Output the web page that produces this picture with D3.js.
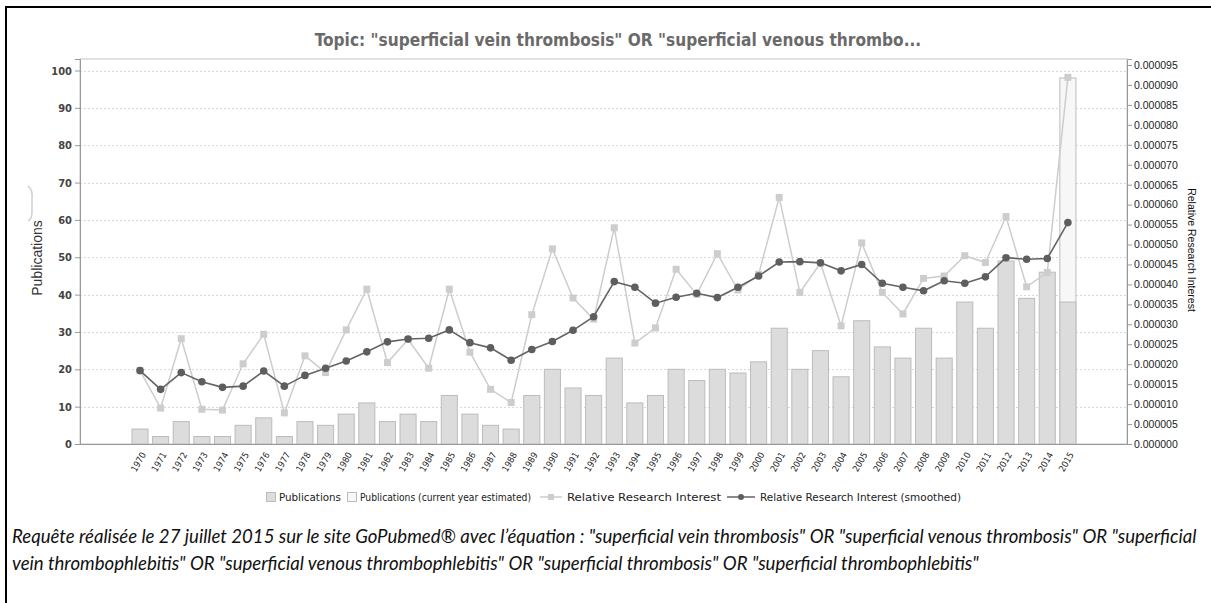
<!DOCTYPE html>
<html><head><meta charset="utf-8">
<script src="https://cdn.jsdelivr.net/npm/d3@7"></script>
<style>
html,body{margin:0;padding:0;background:#fff;}
svg{display:block;}
</style></head>
<body>
<script>
const years = ["1970","1971","1972","1973","1974","1975","1976","1977","1978","1979",
"1980","1981","1982","1983","1984","1985","1986","1987","1988","1989",
"1990","1991","1992","1993","1994","1995","1996","1997","1998","1999",
"2000","2001","2002","2003","2004","2005","2006","2007","2008","2009",
"2010","2011","2012","2013","2014","2015"];
const publications = [4,2,6,2,2,5,7,2,6,5, 8,11,6,8,6,13,8,5,4,13, 20,15,13,23,11,13,20,17,20,19, 22,31,20,25,18,33,26,23,31,23, 38,31,49,39,46,38];
const estimatedYear = "2015";
const estimatedPublications = 98;
const relativeInterest = [18.4e-6,9.0e-6,26.4e-6,8.7e-6,8.5e-6,20.1e-6,27.5e-6,7.8e-6,22.1e-6,17.9e-6,
 28.6e-6,38.8e-6,20.4e-6,26.2e-6,19.0e-6,38.8e-6,23.0e-6,13.7e-6,10.4e-6,32.4e-6,
 48.9e-6,36.6e-6,31.3e-6,54.2e-6,25.3e-6,29.1e-6,43.8e-6,37.5e-6,47.7e-6,38.6e-6,
 42.5e-6,61.8e-6,38.0e-6,45.3e-6,29.6e-6,50.4e-6,38.0e-6,32.6e-6,41.5e-6,42.1e-6,
 47.2e-6,45.5e-6,57.0e-6,39.4e-6,43.0e-6,91.9e-6];
const relativeSmoothed = [18.4e-6,13.7e-6,17.9e-6,15.6e-6,14.2e-6,14.5e-6,18.3e-6,14.5e-6,17.2e-6,19.0e-6,
 20.8e-6,23.1e-6,25.6e-6,26.3e-6,26.5e-6,28.6e-6,25.4e-6,24.1e-6,21.0e-6,23.7e-6,
 25.7e-6,28.5e-6,31.9e-6,40.7e-6,39.3e-6,35.3e-6,36.8e-6,37.8e-6,36.7e-6,39.3e-6,
 42.1e-6,45.6e-6,45.7e-6,45.4e-6,43.4e-6,45.0e-6,40.3e-6,39.3e-6,38.4e-6,40.9e-6,
 40.3e-6,41.9e-6,46.7e-6,46.3e-6,46.5e-6,55.5e-6];
const leftTicks = [0,10,20,30,40,50,60,70,80,90,100];
const rightTicks = [0,5e-6,10e-6,15e-6,20e-6,25e-6,30e-6,35e-6,40e-6,45e-6,50e-6,55e-6,60e-6,65e-6,70e-6,75e-6,80e-6,85e-6,90e-6,95e-6];
const titleText = 'Topic: "superficial vein thrombosis" OR "superficial venous thrombo...';
const legendLabels = ["Publications","Publications (current year estimated)","Relative Research Interest","Relative Research Interest (smoothed)"];
const captionLines = ['Requête réalisée le 27 juillet 2015 sur le site GoPubmed® avec l’équation : "superficial vein thrombosis" OR "superficial venous thrombosis" OR "superficial',
 'vein thrombophlebitis" OR "superficial venous thrombophlebitis" OR "superficial thrombosis" OR "superficial thrombophlebitis"'];

const W = 1211, H = 603;
const svg = d3.select("body").append("svg").attr("width", W).attr("height", H);

// outer frame (top and left visible)
svg.append("line").attr("x1",6).attr("x2",W).attr("y1",7).attr("y2",7).attr("stroke","#000").attr("stroke-width",2);
svg.append("line").attr("x1",6).attr("x2",6).attr("y1",6).attr("y2",H).attr("stroke","#000").attr("stroke-width",2);

const P = {left:80, right:1127, top:59, bottom:444};
const g = svg.append("g");

const x = d3.scaleBand().domain(years).range([129.2, 1077.7]).paddingInner(0.22).paddingOuter(0.11);
const yL = d3.scaleLinear().domain([0, 103.08]).range([P.bottom, P.top]);
const yR = d3.scaleLinear().domain([0, 96.5e-6]).range([P.bottom, P.top]);

// plot frame
g.append("rect").attr("x",P.left).attr("y",P.top).attr("width",P.right-P.left).attr("height",P.bottom-P.top)
 .attr("fill","none").attr("stroke","#c4c4c4").attr("stroke-width",1);

// gridlines
g.selectAll(".grid").data(leftTicks.filter(d=>d>0)).join("line")
 .attr("x1",P.left).attr("x2",P.right)
 .attr("y1",d=>Math.round(yL(d))+0.5).attr("y2",d=>Math.round(yL(d))+0.5)
 .attr("stroke","#d8d8d8").attr("stroke-dasharray","2,2").attr("stroke-width",1);

// estimated bar
g.append("rect").datum(estimatedPublications)
 .attr("x", x(estimatedYear)+0.5).attr("width", x.bandwidth())
 .attr("y", d=>yL(d)).attr("height", d=>yL(0)-yL(d))
 .attr("fill","#f7f7f7").attr("stroke","#bcbcbc").attr("stroke-width",1);

// bars
g.selectAll(".bar").data(publications).join("rect")
 .attr("x",(d,i)=>x(years[i])+0.5).attr("width",x.bandwidth())
 .attr("y",d=>yL(d)).attr("height",d=>yL(0)-yL(d))
 .attr("fill","#dcdcdc").attr("stroke","#bcbcbc").attr("stroke-width",1);

const cx = i => x(years[i]) + x.bandwidth()/2 + 0.5;

// raw interest line
g.append("path").datum(relativeInterest)
 .attr("d", d3.line().x((d,i)=>cx(i)).y(d=>yR(d)))
 .attr("fill","none").attr("stroke","#cdcdcd").attr("stroke-width",1.5);
g.selectAll(".sq").data(relativeInterest).join("rect")
 .attr("x",(d,i)=>cx(i)-3.5).attr("y",d=>yR(d)-3.5).attr("width",7).attr("height",7)
 .attr("fill","#cdcdcd");

// smoothed line
g.append("path").datum(relativeSmoothed)
 .attr("d", d3.line().x((d,i)=>cx(i)).y(d=>yR(d)))
 .attr("fill","none").attr("stroke","#646464").attr("stroke-width",1.6);
g.selectAll(".dot").data(relativeSmoothed).join("circle")
 .attr("cx",(d,i)=>cx(i)).attr("cy",d=>yR(d)).attr("r",3.8)
 .attr("fill","#5e5e5e");

// axes
const axL = g.append("g").attr("transform",`translate(${P.left},0)`)
 .call(d3.axisLeft(yL).tickValues(leftTicks).tickSize(5).tickPadding(3).tickFormat(d3.format("d")));
axL.select(".domain").attr("stroke","#999");
axL.selectAll(".tick line").attr("stroke","#999");
axL.selectAll("text").attr("font-family","DejaVu Sans Condensed, DejaVu Sans, sans-serif").attr("font-size",11).attr("font-weight","bold").attr("fill","#444");

const axR = g.append("g").attr("transform",`translate(${P.right},0)`)
 .call(d3.axisRight(yR).tickValues(rightTicks).tickSize(5).tickPadding(2).tickFormat(d3.format(".6f")));
axR.select(".domain").attr("stroke","#999");
axR.selectAll(".tick line").attr("stroke","#999");
axR.selectAll("text").attr("font-family","Liberation Sans, Arial, sans-serif").attr("font-size",10.5).attr("fill","#222");

const axB = g.append("g").attr("transform",`translate(0,${P.bottom})`)
 .call(d3.axisBottom(x).tickSize(0).tickPadding(0));
axB.select(".domain").attr("stroke","#999").attr("d",`M${P.left},0.5H${P.right}`);
axB.selectAll("text")
 .attr("font-family","DejaVu Sans Condensed, DejaVu Sans, sans-serif").attr("font-size",9).attr("fill","#222")
 .attr("text-anchor","end").attr("dy","0.35em")
 .attr("transform","translate(4,9) rotate(-60)");

// axis titles
svg.append("text").attr("transform","translate(42,258) rotate(-90)")
 .attr("text-anchor","middle").attr("font-family","Liberation Sans, Arial, sans-serif")
 .attr("font-size",14).attr("fill","#333").text("Publications");
svg.append("text").attr("transform","translate(1188,250) rotate(90)")
 .attr("text-anchor","middle").attr("font-family","Liberation Sans, Arial, sans-serif")
 .attr("font-size",10.5).attr("fill","#111").text("Relative Research Interest");
svg.append("path").attr("d","M28,186 Q33,189 32,200 L32,212 Q32,219 28,221")
 .attr("fill","none").attr("stroke","#d0d0d0").attr("stroke-width",1.5);

// title
const title = svg.append("text").attr("x",618).attr("y",46).attr("text-anchor","middle")
 .attr("font-family","DejaVu Sans Condensed, DejaVu Sans, sans-serif").attr("font-weight","bold")
 .attr("font-size",13).attr("fill","#6a6a6a").text(titleText);
{ const w = title.node().getComputedTextLength(); title.attr("font-size", 13*607/w); }

// legend
const lg = svg.append("g").attr("font-family","Liberation Sans Narrow, Arial Narrow, DejaVu Sans Condensed, sans-serif").attr("font-size",10.5).attr("fill","#222");
const ly = 497;
lg.append("rect").attr("x",266.5).attr("y",ly-4.5).attr("width",9).attr("height",9).attr("fill","#dcdcdc").attr("stroke","#bcbcbc");
lg.append("text").attr("x",279).attr("y",ly+3.5).text(legendLabels[0]);
lg.append("rect").attr("x",347.5).attr("y",ly-4.5).attr("width",9).attr("height",9).attr("fill","#f7f7f7").attr("stroke","#bcbcbc");
lg.append("text").attr("x",360).attr("y",ly+3.5).text(legendLabels[1]);
lg.append("line").attr("x1",540).attr("x2",562).attr("y1",ly).attr("y2",ly).attr("stroke","#cdcdcd").attr("stroke-width",1.5);
lg.append("rect").attr("x",548).attr("y",ly-3).attr("width",6).attr("height",6).attr("fill","#cdcdcd");
lg.append("text").attr("x",567).attr("y",ly+3.5).text(legendLabels[2]);
lg.append("line").attr("x1",727).attr("x2",755).attr("y1",ly).attr("y2",ly).attr("stroke","#646464").attr("stroke-width",1.5);
lg.append("circle").attr("cx",741).attr("cy",ly).attr("r",3).attr("fill","#5e5e5e");
lg.append("text").attr("x",760).attr("y",ly+3.5).text(legendLabels[3]);
{
  const targets = [[279,341],[360,531],[567,721],[760,961]];
  lg.selectAll("text").each(function(d,i){
    const t = d3.select(this); const w = this.getComputedTextLength();
    const tw = targets[i][1]-targets[i][0];
    t.attr("textLength", tw).attr("lengthAdjust","spacingAndGlyphs");
  });
}

// caption
const cap = svg.append("g").attr("font-family","Lato, Open Sans, sans-serif").attr("font-style","italic").attr("fill","#111");
const c1 = cap.append("text").attr("x",12).attr("y",543).attr("font-size",15).text(captionLines[0]);
const c2 = cap.append("text").attr("x",12).attr("y",570).attr("font-size",15).text(captionLines[1]);
{ const w = c1.node().getComputedTextLength(); const fs = 15*1185/w; c1.attr("font-size",fs); c2.attr("font-size",fs); }
</script>
</body></html>
